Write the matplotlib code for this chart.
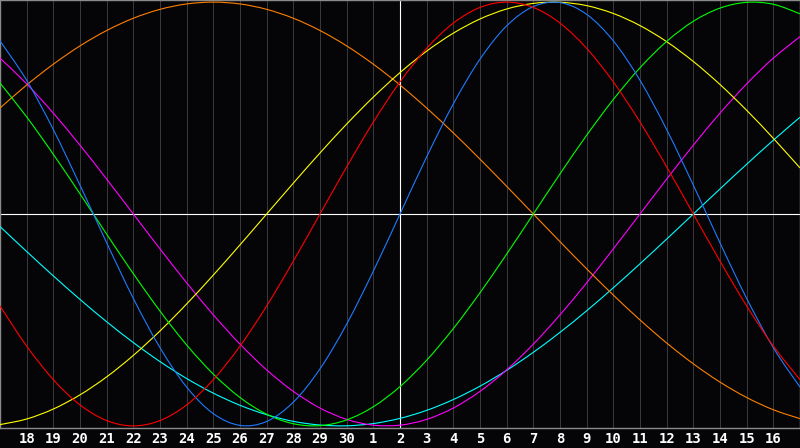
import numpy as np
import matplotlib
matplotlib.use("Agg")
import matplotlib.pyplot as plt
from matplotlib.path import Path
from matplotlib.patches import PathPatch

# Day labels shown under the grid (offsets -14..14 relative to "today" = 2)
day_labels = ["18", "19", "20", "21", "22", "23", "24", "25", "26", "27", "28",
              "29", "30", "1", "2", "3", "4", "5", "6", "7", "8", "9", "10",
              "11", "12", "13", "14", "15", "16"]

# Curve values sampled once per day, from offset -15 to +15 (31 values each)
blue = [0.8170, 0.6311, 0.3984, 0.1362, -0.1362, -0.3984, -0.6311, -0.8170,
        -0.9423, -0.9977, -0.9791, -0.8879, -0.7308, -0.5196, -0.2698, 0.0,
        0.2698, 0.5196, 0.7308, 0.8879, 0.9791, 0.9977, 0.9423, 0.8170,
        0.6311, 0.3984, 0.1362, -0.1362, -0.3984, -0.6311, -0.8170]
red = [-0.4339, -0.6235, -0.7818, -0.9010, -0.9749, -1.0, -0.9749, -0.9010,
       -0.7818, -0.6235, -0.4339, -0.2225, 0.0, 0.2225, 0.4339, 0.6235,
       0.7818, 0.9010, 0.9749, 1.0, 0.9749, 0.9010, 0.7818, 0.6235, 0.4339,
       0.2225, 0.0, -0.2225, -0.4339, -0.6235, -0.7818]
green = [0.6182, 0.4582, 0.2817, 0.0951, -0.0951, -0.2817, -0.4582, -0.6182,
         -0.7557, -0.8660, -0.9450, -0.9898, -0.9989, -0.9718, -0.9096,
         -0.8146, -0.6901, -0.5406, -0.3717, -0.1893, 0.0, 0.1893, 0.3717,
         0.5406, 0.6901, 0.8146, 0.9096, 0.9718, 0.9989, 0.9898, 0.9450]
magenta = [0.7357, 0.6142, 0.4759, 0.3247, 0.1646, 0.0, -0.1646, -0.3247,
           -0.4759, -0.6142, -0.7357, -0.8372, -0.9158, -0.9694, -0.9966,
           -0.9966, -0.9694, -0.9158, -0.8372, -0.7357, -0.6142, -0.4759,
           -0.3247, -0.1646, 0.0, 0.1646, 0.3247, 0.4759, 0.6142, 0.7357, 0.8372]
yellow = [-0.9940, -0.9675, -0.9204, -0.8535, -0.7687, -0.6673, -0.5518,
          -0.4245, -0.2881, -0.1456, 0.0, 0.1456, 0.2881, 0.4245, 0.5518,
          0.6673, 0.7687, 0.8535, 0.9204, 0.9675, 0.9940, 0.9993, 0.9834,
          0.9464, 0.8893, 0.8133, 0.7199, 0.6112, 0.4894, 0.3572, 0.2174]
orange = [0.5, 0.6088, 0.7071, 0.7934, 0.8660, 0.9239, 0.9659, 0.9914, 1.0,
          0.9914, 0.9659, 0.9239, 0.8660, 0.7934, 0.7071, 0.6088, 0.5, 0.3827,
          0.2588, 0.1305, 0.0, -0.1305, -0.2588, -0.3827, -0.5, -0.6088,
          -0.7071, -0.7934, -0.8660, -0.9239, -0.9659]
cyan = [-0.0592, -0.1769, -0.2921, -0.4031, -0.5085, -0.6068, -0.6966,
        -0.7765, -0.8456, -0.9028, -0.9473, -0.9786, -0.9960, -0.9996,
        -0.9890, -0.9646, -0.9267, -0.8757, -0.8125, -0.7378, -0.6528,
        -0.5586, -0.4566, -0.3482, -0.2349, -0.1183, 0.0, 0.1183, 0.2349,
        0.3482, 0.4566]

BG = "#050508"
W, H = 800, 448
fig = plt.figure(figsize=(W / 100, H / 100), dpi=100, facecolor=BG)
ax = fig.add_axes([0, 20 / H, 1, 428 / H], facecolor=BG)

x = np.arange(-15, 16)
ax.set_xlim(-15, 15)
ax.set_ylim(-1.01, 1.01)

# vertical day grid
for d in range(-14, 15):
    if d != 0:
        ax.axvline(d, color="#3a3a3e", lw=0.7, zorder=1)
ax.axhline(0, color="white", lw=0.8, zorder=2)
ax.axvline(0, color="white", lw=0.8, zorder=2)


def smooth_path(xs, ys):
    """Catmull-Rom curve through the daily points, drawn as cubic Beziers."""
    xs = np.asarray(xs, float)
    ys = np.asarray(ys, float)
    pts = np.column_stack([xs, ys])
    n = len(pts)
    verts = [pts[0]]
    codes = [Path.MOVETO]
    for i in range(n - 1):
        p0 = pts[i - 1] if i > 0 else pts[i]
        p1 = pts[i]
        p2 = pts[i + 1]
        p3 = pts[i + 2] if i + 2 < n else pts[i + 1]
        c1 = p1 + (p2 - p0) / 6.0
        c2 = p2 - (p3 - p1) / 6.0
        verts += [c1, c2, p2]
        codes += [Path.CURVE4] * 3
    return Path(verts, codes)


series = [
    (cyan, "#00ffff"),
    (magenta, "#ff00ff"),
    (orange, "#ff8000"),
    (yellow, "#ffff00"),
    (green, "#00ff00"),
    (blue, "#1e7bff"),
    (red, "#ff0000"),
]
for vals, col in series:
    ax.add_patch(PathPatch(smooth_path(x, vals), facecolor="none",
                           edgecolor=col, lw=0.8, zorder=3))

ax.set_xticks(np.arange(-14, 15))
ax.set_xticklabels(day_labels, color="white", fontsize=10, fontweight="bold",
                   family="DejaVu Sans Mono")
ax.tick_params(axis="x", length=0, pad=3)
ax.set_yticks([])
for side, sp in ax.spines.items():
    sp.set_color("#8a8a8a")
    sp.set_linewidth(1.0)

fig.savefig("out.png", dpi=100, facecolor=BG)
